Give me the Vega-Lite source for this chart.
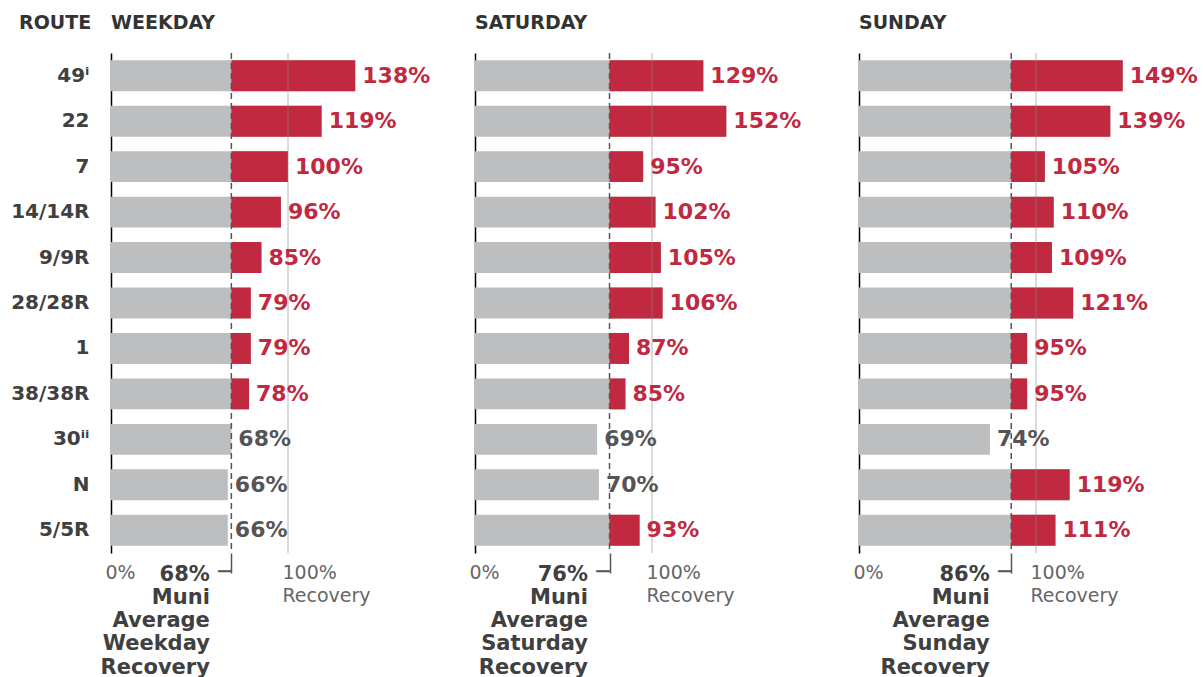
{
  "$schema": "https://vega.github.io/schema/vega-lite/v6.json",
  "background": "white",
  "padding": {"left": 10, "top": 14, "right": 0, "bottom": 0},
  "bounds": "flush",
  "spacing": 20,
  "config": {"view": {"stroke": null}, "font": "DejaVu Sans"},
  "datasets": {
    "routes": [
      {"day": "Weekday", "route": "49ⁱ", "pct": 138, "len": 138, "avg": 68},
      {"day": "Weekday", "route": "22", "pct": 119, "len": 119, "avg": 68},
      {"day": "Weekday", "route": "7", "pct": 100, "len": 100, "avg": 68},
      {"day": "Weekday", "route": "14/14R", "pct": 96, "len": 96, "avg": 68},
      {"day": "Weekday", "route": "9/9R", "pct": 85, "len": 85, "avg": 68},
      {"day": "Weekday", "route": "28/28R", "pct": 79, "len": 79, "avg": 68},
      {"day": "Weekday", "route": "1", "pct": 79, "len": 79, "avg": 68},
      {"day": "Weekday", "route": "38/38R", "pct": 78, "len": 78, "avg": 68},
      {"day": "Weekday", "route": "30ⁱⁱ", "pct": 68, "len": 68, "avg": 68},
      {"day": "Weekday", "route": "N", "pct": 66, "len": 66, "avg": 68},
      {"day": "Weekday", "route": "5/5R", "pct": 66, "len": 66, "avg": 68},
      {"day": "Saturday", "route": "49ⁱ", "pct": 129, "len": 129, "avg": 76},
      {"day": "Saturday", "route": "22", "pct": 152, "len": 142, "avg": 76},
      {"day": "Saturday", "route": "7", "pct": 95, "len": 95, "avg": 76},
      {"day": "Saturday", "route": "14/14R", "pct": 102, "len": 102, "avg": 76},
      {"day": "Saturday", "route": "9/9R", "pct": 105, "len": 105, "avg": 76},
      {"day": "Saturday", "route": "28/28R", "pct": 106, "len": 106, "avg": 76},
      {"day": "Saturday", "route": "1", "pct": 87, "len": 87, "avg": 76},
      {"day": "Saturday", "route": "38/38R", "pct": 85, "len": 85, "avg": 76},
      {"day": "Saturday", "route": "30ⁱⁱ", "pct": 69, "len": 69, "avg": 76},
      {"day": "Saturday", "route": "N", "pct": 70, "len": 70, "avg": 76},
      {"day": "Saturday", "route": "5/5R", "pct": 93, "len": 93, "avg": 76},
      {"day": "Sunday", "route": "49ⁱ", "pct": 149, "len": 149, "avg": 86},
      {"day": "Sunday", "route": "22", "pct": 139, "len": 142, "avg": 86},
      {"day": "Sunday", "route": "7", "pct": 105, "len": 105, "avg": 86},
      {"day": "Sunday", "route": "14/14R", "pct": 110, "len": 110, "avg": 86},
      {"day": "Sunday", "route": "9/9R", "pct": 109, "len": 109, "avg": 86},
      {"day": "Sunday", "route": "28/28R", "pct": 121, "len": 121, "avg": 86},
      {"day": "Sunday", "route": "1", "pct": 95, "len": 95, "avg": 86},
      {"day": "Sunday", "route": "38/38R", "pct": 95, "len": 95, "avg": 86},
      {"day": "Sunday", "route": "30ⁱⁱ", "pct": 74, "len": 74, "avg": 86},
      {"day": "Sunday", "route": "N", "pct": 119, "len": 119, "avg": 86},
      {"day": "Sunday", "route": "5/5R", "pct": 111, "len": 111, "avg": 86}
    ],
    "avgs": [
      {"day": "Weekday", "avg": 68},
      {"day": "Saturday", "avg": 76},
      {"day": "Sunday", "avg": 86}
    ]
  },
  "hconcat": [
    {
      "width": 344,
      "height": 500,
      "title": {"text": "ROUTE\u00a0\u00a0\u00a0WEEKDAY", "anchor": "start", "frame": "group", "baseline": "alphabetic", "offset": 4, "dx": -92, "fontSize": 19, "fontWeight": "bold", "color": "#333333"},
      "layer": [
        {
          "data": {"name": "routes"},
          "transform": [{"filter": "datum.day == 'Weekday'"}],
          "mark": {"type": "bar", "color": "#BDBEC0"},
          "encoding": {
            "y": {"field": "route", "type": "nominal", "sort": ["49ⁱ","22","7","14/14R","9/9R","28/28R","1","38/38R","30ⁱⁱ","N","5/5R"],
              "scale": {"paddingInner": 0.32, "paddingOuter": 0.16},
              "axis": {"title": null, "labelFontSize": 20, "labelFontWeight": "bold", "labelColor": "#404040", "labelPadding": 22, "ticks": false, "domainColor": "#000000", "domainWidth": 1.5}},
            "x": {"field": "len", "type": "quantitative", "scale": {"domain": [0, 194.35], "nice": false, "zero": true},
              "axis": {"values": [0, 68, 100], "title": null, "domain": false, "grid": false, "ticks": true, "tickSize": 20, "tickWidth": 1.5,
                "tickColor": {"condition": {"test": "datum.value == 68", "value": "#555555"}, "value": "transparent"},
                "labelExpr": "datum.value == 0 ? '0%' : datum.value == 100 ? ['100%', 'Recovery'] : ['68%', 'Muni', 'Average', 'Weekday', 'Recovery']",
                "labelAlign": {"condition": {"test": "datum.value == 68", "value": "right"}, "value": "left"},
                "labelOffset": {"condition": {"test": "datum.value == 68", "value": -22}, "value": -6},
                "labelFontWeight": {"condition": {"test": "datum.value == 68", "value": "bold"}, "value": "normal"},
                "labelFontSize": {"condition": {"test": "datum.value == 68", "value": 21}, "value": 19},
                "labelColor": {"condition": {"test": "datum.value == 68", "value": "#404040"}, "value": "#666666"},
                "labelBaseline": "top", "labelLineHeight": 23.3, "labelPadding": -10, "labelOverlap": false, "labelFlush": false, "labelBound": false}}
          }
        },
        {
          "data": {"name": "routes"},
          "transform": [{"filter": "datum.day == 'Weekday' && datum.pct > datum.avg"}],
          "mark": {"type": "bar", "color": "#C0293F"},
          "encoding": {
            "y": {"field": "route", "type": "nominal", "sort": ["49ⁱ","22","7","14/14R","9/9R","28/28R","1","38/38R","30ⁱⁱ","N","5/5R"]},
            "x": {"field": "avg", "type": "quantitative"},
            "x2": {"field": "len"}
          }
        },
        {
          "data": {"name": "avgs"},
          "transform": [{"filter": "datum.day == 'Weekday'"}],
          "mark": {"type": "rule", "color": "#888888", "opacity": 0.4, "strokeWidth": 1.5},
          "encoding": {"x": {"datum": 100, "type": "quantitative"}}
        },
        {
          "data": {"name": "avgs"},
          "transform": [{"filter": "datum.day == 'Weekday'"}],
          "mark": {"type": "rule", "color": "#555555", "strokeWidth": 1.5, "strokeDash": [6, 4]},
          "encoding": {"x": {"field": "avg", "type": "quantitative"}}
        },
        {
          "data": {"name": "routes"},
          "transform": [{"filter": "datum.day == 'Weekday' && datum.route == '5/5R'"}],
          "mark": {"type": "text", "text": "─", "align": "right", "baseline": "middle", "fontSize": 22, "dy": 42, "color": "#555555"},
          "encoding": {"x": {"field": "avg", "type": "quantitative"}, "y": {"field": "route", "type": "nominal", "sort": ["49ⁱ","22","7","14/14R","9/9R","28/28R","1","38/38R","30ⁱⁱ","N","5/5R"]}}
        },
        {
          "data": {"name": "routes"},
          "transform": [{"filter": "datum.day == 'Weekday'"}, {"calculate": "datum.pct + '%'", "as": "txt"}],
          "mark": {"type": "text", "align": "left", "baseline": "middle", "dx": 7, "fontSize": 22, "fontWeight": "bold"},
          "encoding": {
            "y": {"field": "route", "type": "nominal", "sort": ["49ⁱ","22","7","14/14R","9/9R","28/28R","1","38/38R","30ⁱⁱ","N","5/5R"]},
            "x": {"field": "len", "type": "quantitative"},
            "text": {"field": "txt"},
            "color": {"condition": {"test": "datum.pct > datum.avg", "value": "#C0293F"}, "value": "#555555"}
          }
        }
      ]
    },
    {
      "width": 364,
      "height": 500,
      "title": {"text": "SATURDAY", "anchor": "start", "frame": "group", "baseline": "alphabetic", "offset": 4, "fontSize": 19, "fontWeight": "bold", "color": "#333333"},
      "layer": [
        {
          "data": {"name": "routes"},
          "transform": [{"filter": "datum.day == 'Saturday'"}],
          "mark": {"type": "bar", "color": "#BDBEC0"},
          "encoding": {
            "y": {"field": "route", "type": "nominal", "sort": ["49ⁱ","22","7","14/14R","9/9R","28/28R","1","38/38R","30ⁱⁱ","N","5/5R"],
              "scale": {"paddingInner": 0.32, "paddingOuter": 0.16},
              "axis": {"title": null, "labels": false, "ticks": false, "domainColor": "#000000", "domainWidth": 1.5}},
            "x": {"field": "len", "type": "quantitative", "scale": {"domain": [0, 205.65], "nice": false, "zero": true},
              "axis": {"values": [0, 76, 100], "title": null, "domain": false, "grid": false, "ticks": true, "tickSize": 20, "tickWidth": 1.5,
                "tickColor": {"condition": {"test": "datum.value == 76", "value": "#555555"}, "value": "transparent"},
                "labelExpr": "datum.value == 0 ? '0%' : datum.value == 100 ? ['100%', 'Recovery'] : ['76%', 'Muni', 'Average', 'Saturday', 'Recovery']",
                "labelAlign": {"condition": {"test": "datum.value == 76", "value": "right"}, "value": "left"},
                "labelOffset": {"condition": {"test": "datum.value == 76", "value": -22}, "value": -6},
                "labelFontWeight": {"condition": {"test": "datum.value == 76", "value": "bold"}, "value": "normal"},
                "labelFontSize": {"condition": {"test": "datum.value == 76", "value": 21}, "value": 19},
                "labelColor": {"condition": {"test": "datum.value == 76", "value": "#404040"}, "value": "#666666"},
                "labelBaseline": "top", "labelLineHeight": 23.3, "labelPadding": -10, "labelOverlap": false, "labelFlush": false, "labelBound": false}}
          }
        },
        {
          "data": {"name": "routes"},
          "transform": [{"filter": "datum.day == 'Saturday' && datum.pct > datum.avg"}],
          "mark": {"type": "bar", "color": "#C0293F"},
          "encoding": {
            "y": {"field": "route", "type": "nominal", "sort": ["49ⁱ","22","7","14/14R","9/9R","28/28R","1","38/38R","30ⁱⁱ","N","5/5R"]},
            "x": {"field": "avg", "type": "quantitative"},
            "x2": {"field": "len"}
          }
        },
        {
          "data": {"name": "avgs"},
          "transform": [{"filter": "datum.day == 'Saturday'"}],
          "mark": {"type": "rule", "color": "#888888", "opacity": 0.4, "strokeWidth": 1.5},
          "encoding": {"x": {"datum": 100, "type": "quantitative"}}
        },
        {
          "data": {"name": "avgs"},
          "transform": [{"filter": "datum.day == 'Saturday'"}],
          "mark": {"type": "rule", "color": "#555555", "strokeWidth": 1.5, "strokeDash": [6, 4]},
          "encoding": {"x": {"field": "avg", "type": "quantitative"}}
        },
        {
          "data": {"name": "routes"},
          "transform": [{"filter": "datum.day == 'Saturday' && datum.route == '5/5R'"}],
          "mark": {"type": "text", "text": "─", "align": "right", "baseline": "middle", "fontSize": 22, "dy": 42, "color": "#555555"},
          "encoding": {"x": {"field": "avg", "type": "quantitative"}, "y": {"field": "route", "type": "nominal", "sort": ["49ⁱ","22","7","14/14R","9/9R","28/28R","1","38/38R","30ⁱⁱ","N","5/5R"]}}
        },
        {
          "data": {"name": "routes"},
          "transform": [{"filter": "datum.day == 'Saturday'"}, {"calculate": "datum.pct + '%'", "as": "txt"}],
          "mark": {"type": "text", "align": "left", "baseline": "middle", "dx": 7, "fontSize": 22, "fontWeight": "bold"},
          "encoding": {
            "y": {"field": "route", "type": "nominal", "sort": ["49ⁱ","22","7","14/14R","9/9R","28/28R","1","38/38R","30ⁱⁱ","N","5/5R"]},
            "x": {"field": "len", "type": "quantitative"},
            "text": {"field": "txt"},
            "color": {"condition": {"test": "datum.pct > datum.avg", "value": "#C0293F"}, "value": "#555555"}
          }
        }
      ]
    },
    {
      "width": 300,
      "height": 500,
      "title": {"text": "SUNDAY", "anchor": "start", "frame": "group", "baseline": "alphabetic", "offset": 4, "fontSize": 19, "fontWeight": "bold", "color": "#333333"},
      "layer": [
        {
          "data": {"name": "routes"},
          "transform": [{"filter": "datum.day == 'Sunday'"}],
          "mark": {"type": "bar", "color": "#BDBEC0"},
          "encoding": {
            "y": {"field": "route", "type": "nominal", "sort": ["49ⁱ","22","7","14/14R","9/9R","28/28R","1","38/38R","30ⁱⁱ","N","5/5R"],
              "scale": {"paddingInner": 0.32, "paddingOuter": 0.16},
              "axis": {"title": null, "labels": false, "ticks": false, "domainColor": "#000000", "domainWidth": 1.5}},
            "x": {"field": "len", "type": "quantitative", "scale": {"domain": [0, 169.49], "nice": false, "zero": true},
              "axis": {"values": [0, 86, 100], "title": null, "domain": false, "grid": false, "ticks": true, "tickSize": 20, "tickWidth": 1.5,
                "tickColor": {"condition": {"test": "datum.value == 86", "value": "#555555"}, "value": "transparent"},
                "labelExpr": "datum.value == 0 ? '0%' : datum.value == 100 ? ['100%', 'Recovery'] : ['86%', 'Muni', 'Average', 'Sunday', 'Recovery']",
                "labelAlign": {"condition": {"test": "datum.value == 86", "value": "right"}, "value": "left"},
                "labelOffset": {"condition": {"test": "datum.value == 86", "value": -22}, "value": -6},
                "labelFontWeight": {"condition": {"test": "datum.value == 86", "value": "bold"}, "value": "normal"},
                "labelFontSize": {"condition": {"test": "datum.value == 86", "value": 21}, "value": 19},
                "labelColor": {"condition": {"test": "datum.value == 86", "value": "#404040"}, "value": "#666666"},
                "labelBaseline": "top", "labelLineHeight": 23.3, "labelPadding": -10, "labelOverlap": false, "labelFlush": false, "labelBound": false}}
          }
        },
        {
          "data": {"name": "routes"},
          "transform": [{"filter": "datum.day == 'Sunday' && datum.pct > datum.avg"}],
          "mark": {"type": "bar", "color": "#C0293F"},
          "encoding": {
            "y": {"field": "route", "type": "nominal", "sort": ["49ⁱ","22","7","14/14R","9/9R","28/28R","1","38/38R","30ⁱⁱ","N","5/5R"]},
            "x": {"field": "avg", "type": "quantitative"},
            "x2": {"field": "len"}
          }
        },
        {
          "data": {"name": "avgs"},
          "transform": [{"filter": "datum.day == 'Sunday'"}],
          "mark": {"type": "rule", "color": "#888888", "opacity": 0.4, "strokeWidth": 1.5},
          "encoding": {"x": {"datum": 100, "type": "quantitative"}}
        },
        {
          "data": {"name": "avgs"},
          "transform": [{"filter": "datum.day == 'Sunday'"}],
          "mark": {"type": "rule", "color": "#555555", "strokeWidth": 1.5, "strokeDash": [6, 4]},
          "encoding": {"x": {"field": "avg", "type": "quantitative"}}
        },
        {
          "data": {"name": "routes"},
          "transform": [{"filter": "datum.day == 'Sunday' && datum.route == '5/5R'"}],
          "mark": {"type": "text", "text": "─", "align": "right", "baseline": "middle", "fontSize": 22, "dy": 42, "color": "#555555"},
          "encoding": {"x": {"field": "avg", "type": "quantitative"}, "y": {"field": "route", "type": "nominal", "sort": ["49ⁱ","22","7","14/14R","9/9R","28/28R","1","38/38R","30ⁱⁱ","N","5/5R"]}}
        },
        {
          "data": {"name": "routes"},
          "transform": [{"filter": "datum.day == 'Sunday'"}, {"calculate": "datum.pct + '%'", "as": "txt"}],
          "mark": {"type": "text", "align": "left", "baseline": "middle", "dx": 7, "fontSize": 22, "fontWeight": "bold"},
          "encoding": {
            "y": {"field": "route", "type": "nominal", "sort": ["49ⁱ","22","7","14/14R","9/9R","28/28R","1","38/38R","30ⁱⁱ","N","5/5R"]},
            "x": {"field": "len", "type": "quantitative"},
            "text": {"field": "txt"},
            "color": {"condition": {"test": "datum.pct > datum.avg", "value": "#C0293F"}, "value": "#555555"}
          }
        }
      ]
    }
  ]
}
